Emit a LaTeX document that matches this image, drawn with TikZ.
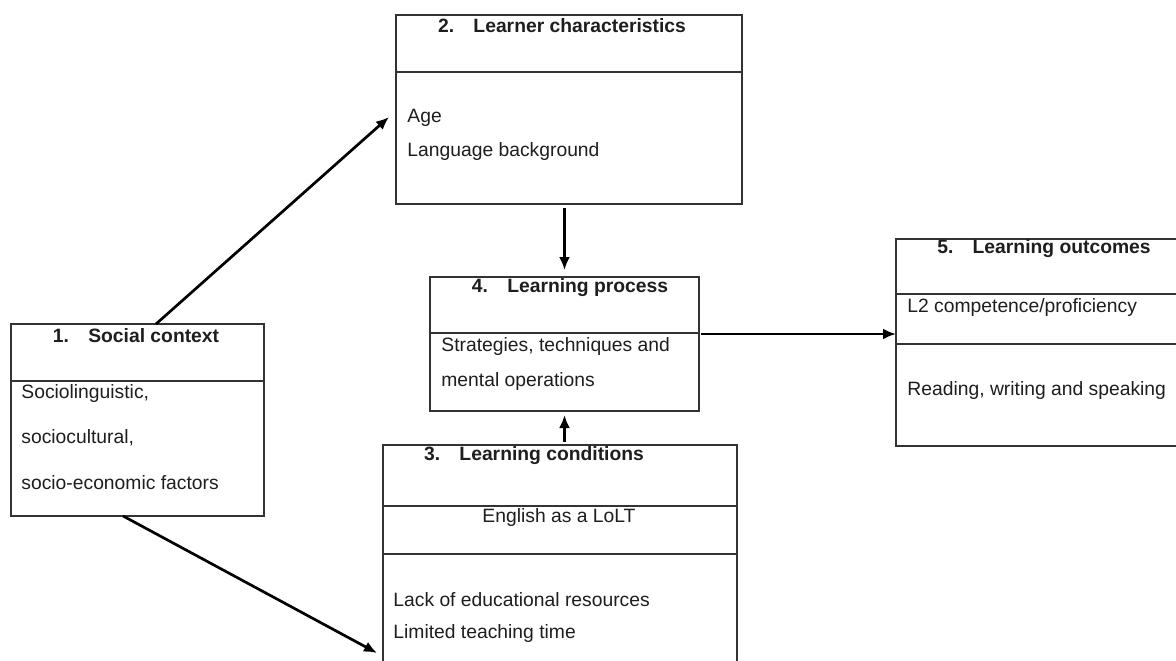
\documentclass[tikz,border=0pt]{standalone}
\usepackage{fontspec}
\setmainfont{Liberation Sans}
\usetikzlibrary{arrows.meta,calc}
\definecolor{boxline}{HTML}{333333}
\definecolor{ink}{HTML}{1E1E1E}
\tikzset{
  box/.style={draw=boxline, line width=0.75pt, inner sep=0pt, outer sep=0pt, anchor=north west},
  divider/.style={draw=boxline, line width=0.75pt},
  title/.style={font=\fontsize{9.65}{11}\selectfont\bfseries, text=ink, inner sep=0pt},
  body/.style={font=\fontsize{9.65}{11}\selectfont, text=ink, inner sep=0pt, anchor=west},
  flow/.style={draw=black, line width=1.35pt, -{Latex[length=6.5pt,width=5.5pt]}},
}
\begin{document}
\begin{tikzpicture}[x=0.5pt,y=-0.5pt]
\clip (0,0) rectangle (1176,660);
\fill[white] (0,0) rectangle (1176,660);

% 1. Social context
\node[box, minimum width=126.5pt, minimum height=96pt] (b1) at (11,324) {};
\draw[divider] (b1.west |- 0,381) -- (b1.east |- 0,381);
\node[title] (t1) at (136,336) {1.\hspace{1em}Social context};
\node[body] (s1a) at (21,393) {Sociolinguistic,};
\node[body] (s1b) at (21,438) {sociocultural,};
\node[body] (s1c) at (21,483) {socio-economic factors};

% 2. Learner characteristics
\node[box, minimum width=173pt, minimum height=94.5pt] (b2) at (396,15) {};
\draw[divider] (b2.west |- 0,72) -- (b2.east |- 0,72);
\node[title] (t2) at (562,26) {2.\hspace{1em}Learner characteristics};
\node[body] (s2a) at (407,118) {Age};
\node[body] (s2b) at (407,152) {Language background};

% 4. Learning process
\node[box, minimum width=134.5pt, minimum height=67pt] (b4) at (430,277) {};
\draw[divider] (b4.west |- 0,333) -- (b4.east |- 0,333);
\node[title] (t4) at (570,288) {4.\hspace{1em}Learning process};
\node[body] (s4a) at (441,346) {Strategies, techniques and};
\node[body] (s4b) at (441,381) {mental operations};

% 3. Learning conditions
\node[box, minimum width=177pt, minimum height=127.5pt] (b3) at (383,445) {};
\draw[divider] (b3.west |- 0,506) -- (b3.east |- 0,506);
\draw[divider] (b3.west |- 0,554) -- (b3.east |- 0,554);
\node[title] (t3) at (534,456) {3.\hspace{1em}Learning conditions};
\node[body, anchor=center] (s3a) at (559,517) {English as a LoLT};
\node[body] (s3b) at (393,600) {Lack of educational resources};
\node[body] (s3c) at (393,633) {Limited teaching time};

% 5. Learning outcomes
\node[box, minimum width=152pt, minimum height=103.5pt] (b5) at (896,239) {};
\draw[divider] (b5.west |- 0,294) -- (b5.east |- 0,294);
\draw[divider] (b5.west |- 0,344) -- (b5.east |- 0,344);
\node[title] (t5) at (1044,249) {5.\hspace{1em}Learning outcomes};
\node[body] (s5a) at (907,307) {L2 competence/proficiency};
\node[body] (s5b) at (907,390) {Reading, writing and speaking};

% connectors
\coordinate (e12) at (389,117);
\coordinate (e13) at (377,653);
\coordinate (o4) at (701,334);
\draw[flow] ($(b1.north west)!0.573!(b1.north east)$) -- (e12);
\draw[flow] ($(b1.south west)!0.443!(b1.south east)$) -- (e13);
\draw[flow] ([yshift=-2pt]b2.south -| b4.north) -- ([yshift=3.5pt]b4.north);
\draw[flow] ([yshift=1.5pt]b3.north -| b4.south) -- ([yshift=-2pt]b4.south);
\draw[flow] (o4) -- (o4 -| b5.west);
\end{tikzpicture}
\end{document}
